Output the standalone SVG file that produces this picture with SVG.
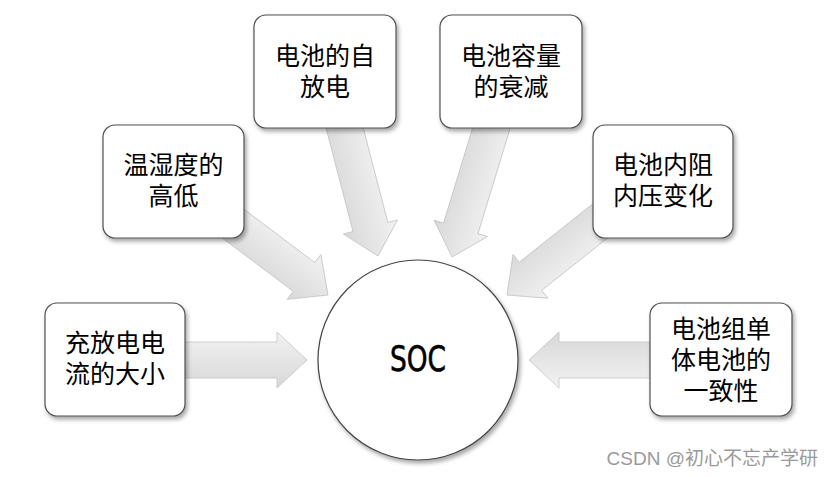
<svg xmlns="http://www.w3.org/2000/svg" width="834" height="477" viewBox="0 0 834 477">
<defs>
<style>
.box{fill:#fff;stroke:#505050;stroke-width:1.2;filter:url(#sh)}
.t{font-family:"Noto Sans CJK SC","Noto Sans CJK JP",sans-serif;font-size:25px;fill:#000;text-anchor:middle}
.arr{fill:url(#ag);stroke:#c4c4c4;stroke-width:0.8}
</style>
<filter id="sh" x="-20%" y="-20%" width="140%" height="140%">
<feDropShadow dx="2" dy="3" stdDeviation="2" flood-color="#000" flood-opacity="0.35"/>
</filter>
<linearGradient id="ag" x1="0" y1="0" x2="0" y2="1">
<stop offset="0" stop-color="#f2f2f2"/>
<stop offset="1" stop-color="#d8d8d8"/>
</linearGradient>
</defs>
<rect width="834" height="477" fill="#fff"/>
<g id="connectors">
<polygon class="arr" transform="translate(307,360) rotate(0)" points="-137,-18 -30,-18 -30,-28 0,0 -30,28 -30,18 -137,18"/>
<polygon class="arr" transform="translate(328,295) rotate(36.95)" points="-141,-18 -30,-18 -30,-28 0,0 -30,28 -30,18 -141,18"/>
<polygon class="arr" transform="translate(378,256) rotate(75.4)" points="-151,-18 -30,-18 -30,-28 0,0 -30,28 -30,18 -151,18"/>
<polygon class="arr" transform="translate(452,257) rotate(107)" points="-154,-18 -30,-18 -30,-28 0,0 -30,28 -30,18 -154,18"/>
<polygon class="arr" transform="translate(507,295) rotate(141.5)" points="-138,-18 -30,-18 -30,-28 0,0 -30,28 -30,18 -138,18"/>
<polygon class="arr" transform="translate(529,360) rotate(180)" points="-140,-18 -30,-18 -30,-28 0,0 -30,28 -30,18 -140,18"/>
</g>
<g id="soc">
<circle cx="418" cy="360" r="100" fill="#fff" stroke="#444" stroke-width="1.2" filter="url(#sh)"/>
<text x="418" y="371" font-family="'DejaVu Sans Condensed','DejaVu Sans',sans-serif" font-size="35" text-anchor="middle" stroke="#000" stroke-width="0.6" textLength="56" lengthAdjust="spacingAndGlyphs">SOC</text>
</g>
<g id="n1">
<rect class="box" x="45" y="303" width="140" height="113" rx="12"/>
<text class="t" x="115" y="352">充放电电<tspan x="115" dy="31">流的大小</tspan></text>
</g>
<g id="n2">
<rect class="box" x="103" y="125" width="141" height="113" rx="12"/>
<text class="t" x="173.5" y="174">温湿度的<tspan x="173.5" dy="31">高低</tspan></text>
</g>
<g id="n3">
<rect class="box" x="254" y="15" width="142" height="113" rx="12"/>
<text class="t" x="325" y="65">电池的自<tspan x="325" dy="31">放电</tspan></text>
</g>
<g id="n4">
<rect class="box" x="440" y="15" width="142" height="113" rx="12"/>
<text class="t" x="511" y="65">电池容量<tspan x="511" dy="31">的衰减</tspan></text>
</g>
<g id="n5">
<rect class="box" x="593" y="125" width="140" height="113" rx="12"/>
<text class="t" x="663" y="174">电池内阻<tspan x="663" dy="31">内压变化</tspan></text>
</g>
<g id="n6">
<rect class="box" x="650" y="303" width="142" height="113" rx="12"/>
<text class="t" x="721" y="338">电池组单<tspan x="721" dy="31">体电池的</tspan><tspan x="721" dy="31">一致性</tspan></text>
</g>
<text x="818" y="465" font-family="'Liberation Sans','Noto Sans CJK SC',sans-serif" font-size="19" fill="#9a9a9a" text-anchor="end">CSDN @初心不忘产学研</text>
</svg>
